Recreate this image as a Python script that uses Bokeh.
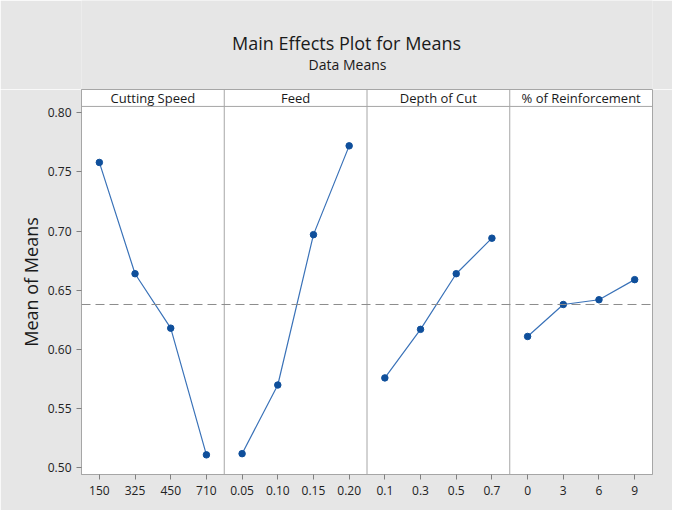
import numpy as np
from bokeh.plotting import figure
from bokeh.layouts import column
from bokeh.models import Range1d, FixedTicker, Span, PrintfTickFormatter
from bokeh.core.properties import value
from bokeh.embed import file_html
from bokeh.resources import INLINE

# ---- data ----
factors = ["Cutting Speed", "Feed", "Depth of Cut", "% of Reinforcement"]
speed_levels = ["150", "325", "450", "710"]
speed_means = [0.758, 0.664, 0.618, 0.511]
feed_levels = ["0.05", "0.10", "0.15", "0.20"]
feed_means = [0.512, 0.570, 0.697, 0.772]
doc_levels = ["0.1", "0.3", "0.5", "0.7"]
doc_means = [0.576, 0.617, 0.664, 0.694]
reinf_levels = ["0", "3", "6", "9"]
reinf_means = [0.611, 0.638, 0.642, 0.659]
grand_mean = 0.638
y_ticks = [0.50, 0.55, 0.60, 0.65, 0.70, 0.75, 0.80]

levels = [speed_levels, feed_levels, doc_levels, reinf_levels]
means = [speed_means, feed_means, doc_means, reinf_means]

FONT = "Open Sans"
LINE = "#3a72b8"
MARK = "#0f4f9b"
GRID = "#a6a6a6"
BG = "#e6e6e6"
INK = "#1a1a1a"

BL, BR, FW = 81, 20, 571

# ---- title strip (separate figure, frame aligned with the main panel) ----
TH = 89
top = figure(frame_width=FW, frame_height=TH, output_backend="svg",
             toolbar_location=None, x_range=Range1d(BL, BL + FW),
             y_range=Range1d(0, TH), min_border_left=BL, min_border_right=BR,
             min_border_top=0, min_border_bottom=0, title=None)
top.axis.visible = False
top.grid.visible = False
top.outline_line_color = None
top.background_fill_color = BG
top.border_fill_color = BG
top.text(x=[346], y=[TH - 42], text=["Main Effects Plot for Means"],
         text_font=value(FONT), text_font_size="18px", text_color=INK,
         text_align="center", text_baseline="middle")
top.text(x=[347], y=[TH - 64], text=["Data Means"],
         text_font=value(FONT), text_font_size="14px", text_color=INK,
         text_align="center", text_baseline="middle")

# ---- main panel ----
y_lo, y_plot_top, y_box_top = 0.4944, 0.8053, 0.8196
x_lo, x_hi = 0.5, 16.5

p = figure(frame_width=FW, frame_height=385, output_backend="svg",
           toolbar_location=None, x_range=Range1d(x_lo, x_hi),
           y_range=Range1d(y_lo, y_box_top), min_border_left=BL,
           min_border_right=BR, min_border_top=0, min_border_bottom=36,
           title=None)
p.border_fill_color = BG
p.background_fill_color = "white"
p.outline_line_color = GRID
p.grid.visible = False

# panel dividers
for b in [4.5, 8.5, 12.5]:
    p.add_layout(Span(location=b, dimension="height", line_color=GRID, line_width=1))
# header strip bottom
p.add_layout(Span(location=y_plot_top, dimension="width", line_color=GRID, line_width=1))
# grand mean
p.add_layout(Span(location=grand_mean, dimension="width", line_color="#8c8c8c",
                  line_width=1, line_dash="9 5"))

overrides = {}
for i, (lv, mv) in enumerate(zip(levels, means)):
    xs = [i * 4 + k + 1 for k in range(len(lv))]
    for xx, lab in zip(xs, lv):
        overrides[xx] = lab
    p.line(xs, mv, line_color=LINE, line_width=1.2)
    p.scatter(xs, mv, size=6.5, fill_color=MARK, line_color=MARK)

# headers
p.text(x=[2.5, 6.5, 10.5, 14.5], y=[(y_plot_top + y_box_top) / 2] * 4, text=factors,
       text_font=value(FONT), text_font_size="13px", text_color=INK,
       text_align="center", text_baseline="middle")

# axes
p.xaxis.ticker = FixedTicker(ticks=list(range(1, 17)))
p.xaxis.major_label_overrides = overrides
p.yaxis.ticker = FixedTicker(ticks=y_ticks)
p.yaxis.formatter = PrintfTickFormatter(format="%.2f")
for ax in [p.xaxis[0], p.yaxis[0]]:
    ax.axis_line_color = GRID
    ax.major_tick_line_color = "#808080"
    ax.major_tick_out = 5
    ax.major_tick_in = 0
    ax.minor_tick_line_color = None
    ax.major_label_text_font = FONT
    ax.major_label_text_font_size = "12px"
    ax.major_label_text_color = "#222222"
p.xaxis.major_label_standoff = 6
p.yaxis.axis_label = "Mean of Means"
p.yaxis.axis_label_text_font = FONT
p.yaxis.axis_label_text_font_size = "18px"
p.yaxis.axis_label_text_font_style = "normal"
p.yaxis.axis_label_text_color = INK
p.yaxis.axis_label_standoff = 2

layout = column(top, p, spacing=0)
open("out.html", "w").write(file_html(layout, INLINE))
